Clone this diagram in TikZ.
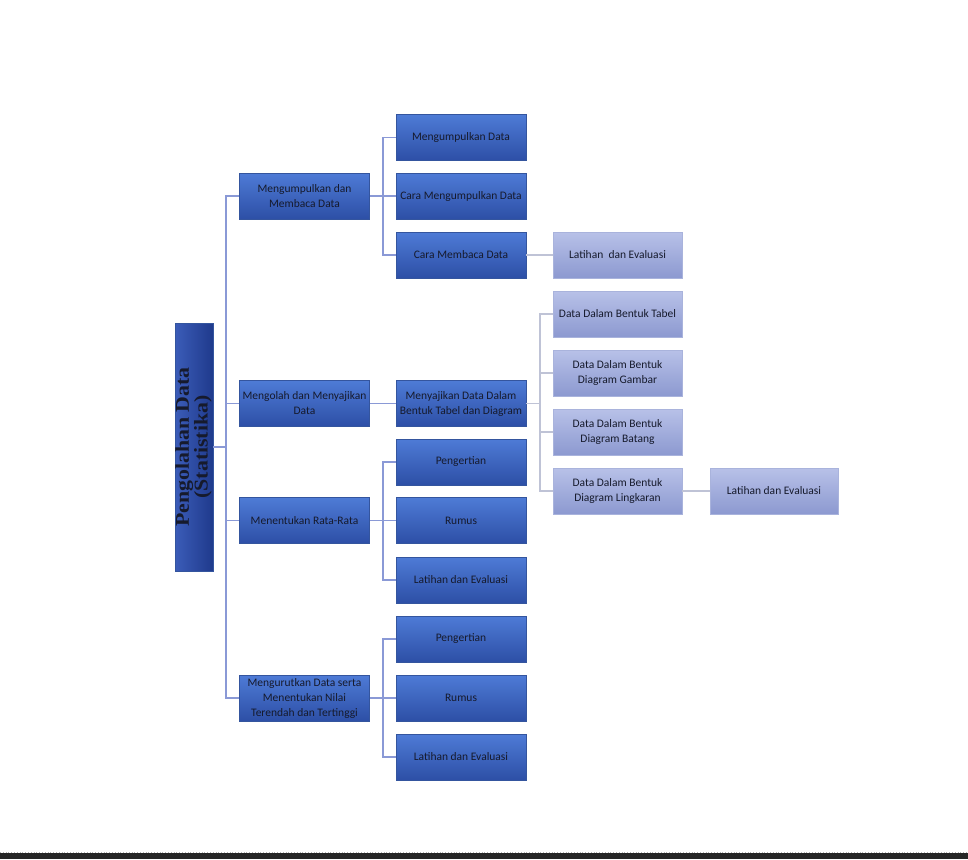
\documentclass[tikz,border=0pt]{standalone}
\usepackage{fontspec}
\setmainfont{Carlito}
\newfontfamily\rootfont{Liberation Serif}
\definecolor{dtop}{HTML}{4E7BD6}
\definecolor{dbot}{HTML}{2D4FA6}
\definecolor{dbrd}{HTML}{34559E}
\definecolor{ltop}{HTML}{B8C1E8}
\definecolor{lbot}{HTML}{8C99D0}
\definecolor{lbrd}{HTML}{A9B3DC}
\definecolor{rleft}{HTML}{3B5CB8}
\definecolor{rright}{HTML}{1F3A8C}
\definecolor{blline}{HTML}{8A99D6}
\definecolor{grline}{HTML}{BFC3D6}
\definecolor{txt}{HTML}{161A2C}
\begin{document}
\begin{tikzpicture}[x=1pt,y=-1pt,
  dbox/.style={rectangle,draw=dbrd,line width=0.6pt,top color=dtop,bottom color=dbot,
    minimum width=130pt,minimum height=46pt,inner sep=1pt,align=center,text=txt,
    font=\fontsize{11.5}{15}\selectfont},
  lbox/.style={rectangle,draw=lbrd,line width=0.6pt,top color=ltop,bottom color=lbot,
    minimum width=129pt,minimum height=46pt,inner sep=1pt,align=center,text=txt,
    font=\fontsize{11.5}{15}\selectfont},
  bl/.style={draw=blline,line width=1.6pt},
  gl/.style={draw=grline,line width=1.6pt}]
\useasboundingbox (0,0) rectangle (968,859);
\fill[white] (0,0) rectangle (968,859);
\fill[black!85] (0,853) rectangle (968,859);
\draw[black!30,line width=0.8pt,dotted] (0,852) -- (968,852);

% root
\node[draw=dbrd,line width=0.6pt,left color=rleft,right color=rright,
  minimum width=38pt,minimum height=248pt,inner sep=0pt] (root) at (194,447) {};
\node[text=txt,rotate=90,inner sep=0pt]
  (roottext) at (root.center) {\rootfont\bfseries\fontsize{19.5}{17}\selectfont
  \scalebox{1.12}[1]{\begin{tabular}{@{}c@{}}Pengolahan Data\\(Statistika)\end{tabular}}};

% level 1
\node[dbox] (n1) at (304.5,196) {Mengumpulkan dan\\Membaca Data};
\node[dbox] (n2) at (304.5,403.5) {Mengolah dan Menyajikan\\Data};
\node[dbox] (n3) at (304.5,520.5) {Menentukan Rata-Rata};
\node[dbox] (n4) at (304.5,698) {Mengurutkan Data serta\\Menentukan Nilai\\Terendah dan Tertinggi};

% level 2
\node[dbox] (a1) at (461,137.5) {Mengumpulkan Data};
\node[dbox] (a2) at (461,196) {Cara Mengumpulkan Data};
\node[dbox] (a3) at (461,255) {Cara Membaca Data};
\node[dbox] (b1) at (461,403.5) {Menyajikan Data Dalam\\Bentuk Tabel dan Diagram};
\node[dbox] (c1) at (461,462) {Pengertian};
\node[dbox] (c2) at (461,520.5) {Rumus};
\node[dbox] (c3) at (461,580) {Latihan dan Evaluasi};
\node[dbox] (d1) at (461,639) {Pengertian};
\node[dbox] (d2) at (461,698) {Rumus};
\node[dbox] (d3) at (461,757) {Latihan dan Evaluasi};

% level 3
\node[lbox] (l1) at (617.5,255) {Latihan\ \ dan Evaluasi};
\node[lbox] (t1) at (617.5,314) {Data Dalam Bentuk Tabel};
\node[lbox] (t2) at (617.5,373) {Data Dalam Bentuk\\Diagram Gambar};
\node[lbox] (t3) at (617.5,432) {Data Dalam Bentuk\\Diagram Batang};
\node[lbox] (t4) at (617.5,491) {Data Dalam Bentuk\\Diagram Lingkaran};

% level 4
\node[lbox,minimum width=128pt] (e1) at (774,491) {Latihan dan Evaluasi};

% helper coordinates
\coordinate (tr) at (226,447);
\coordinate (bx) at (383,0);
\coordinate (cx) at (540,0);

% root to level 1
\draw[bl] (root.east) -- (tr);
\draw[bl] (n1.west) -- (n1.west -| tr) -- (n4.west -| tr) -- (n4.west);
\draw[bl] (n2.west -| tr) -- (n2.west);
\draw[bl] (n3.west -| tr) -- (n3.west);

% level 1 to level 2
\draw[bl] (n1.east) -- (n1.east -| bx);
\draw[bl] (a1.west) -- (a1.west -| bx) -- (a3.west -| bx) -- (a3.west);
\draw[bl] (a2.west -| bx) -- (a2.west);
\draw[bl] (n2.east) -- (b1.west);
\draw[bl] (n3.east) -- (n3.east -| bx);
\draw[bl] (c1.west) -- (c1.west -| bx) -- (c3.west -| bx) -- (c3.west);
\draw[bl] (c2.west -| bx) -- (c2.west);
\draw[bl] (n4.east) -- (n4.east -| bx);
\draw[bl] (d1.west) -- (d1.west -| bx) -- (d3.west -| bx) -- (d3.west);
\draw[bl] (d2.west -| bx) -- (d2.west);

% level 2 to level 3
\draw[gl] (a3.east) -- (l1.west);
\draw[gl] (b1.east) -- (b1.east -| cx);
\draw[gl] (t1.west) -- (t1.west -| cx) -- (t4.west -| cx) -- (t4.west);
\draw[gl] (t2.west -| cx) -- (t2.west);
\draw[gl] (t3.west -| cx) -- (t3.west);

% level 3 to level 4
\draw[gl] (t4.east) -- (e1.west);
\end{tikzpicture}
\end{document}
